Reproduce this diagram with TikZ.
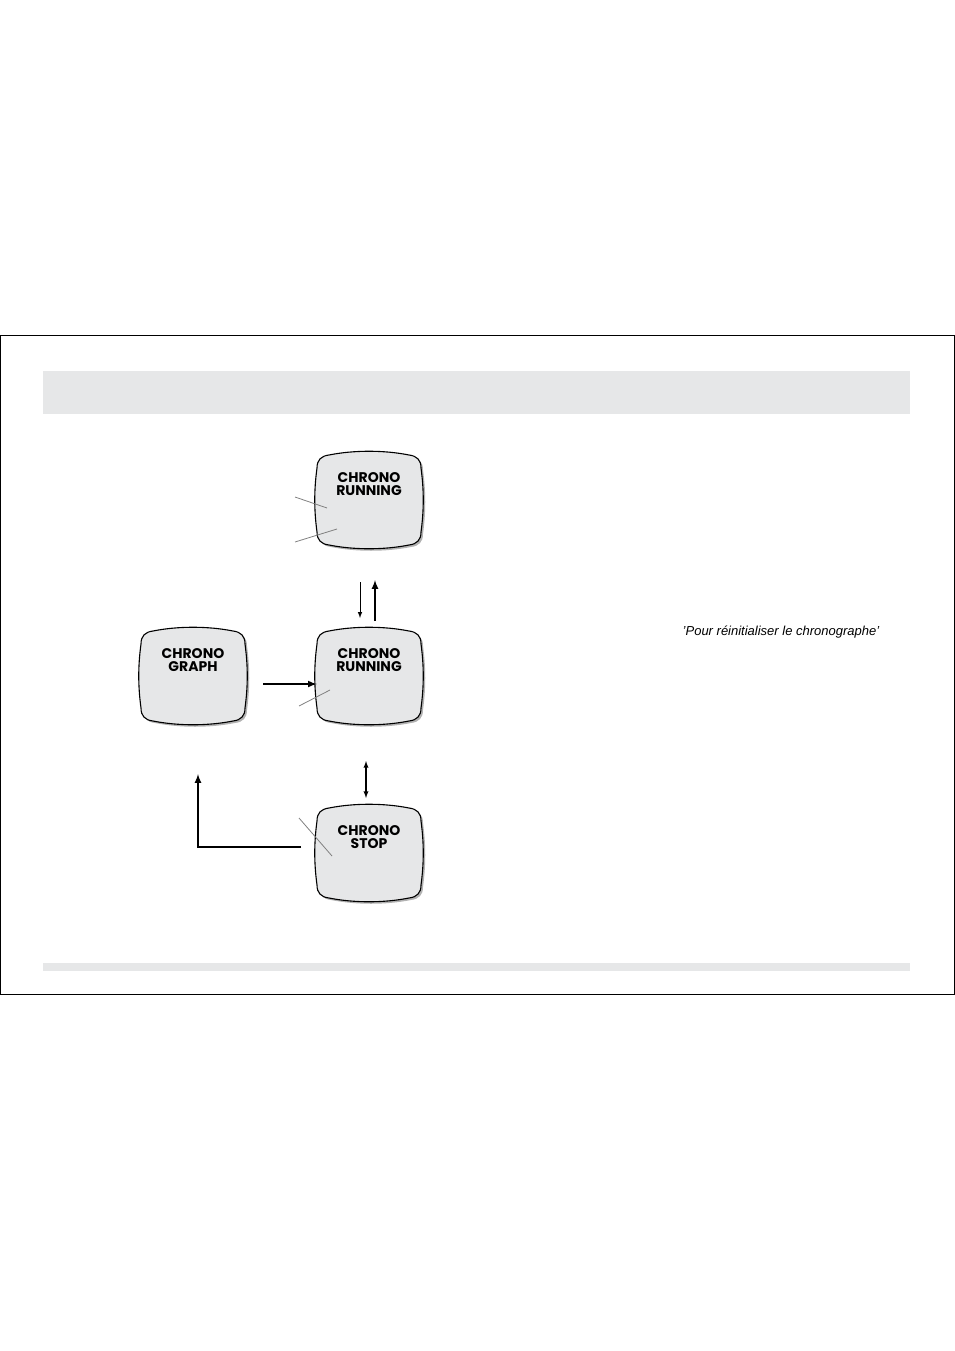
\documentclass[tikz,border=0pt]{standalone}
\usepackage{fontspec}
\setmainfont{Liberation Sans}
\newfontfamily\facefont{Poppins}
\definecolor{facegray}{HTML}{E6E7E8}
\tikzset{
	face/.style={minimum width=104pt,minimum height=96pt,inner sep=0pt},
	facetext/.style={font=\facefont\bfseries\fontsize{14}{16}\selectfont,align=center},
	pointer/.style={gray,line width=0.8pt},
	flow/.style={-latex,line width=1.2pt},
}
\newcommand\watchshape[1]{%
	\begin{scope}[shift={(#1)}]
	\fill[gray!60,shift={(2,2)}] (-40,-45) .. controls (-15,-50) and (15,-50) .. (40,-45) .. controls (48,-44) and (52,-40) .. (52,-32) .. controls (55,-10) and (55,10) .. (52,32) .. controls (52,40) and (48,44) .. (40,45) .. controls (15,50) and (-15,50) .. (-40,45) .. controls (-48,44) and (-52,40) .. (-52,32) .. controls (-55,10) and (-55,-10) .. (-52,-32) .. controls (-52,-40) and (-48,-44) .. (-40,-45) -- cycle;
	\filldraw[fill=facegray,line width=1.1pt] (-40,-45) .. controls (-15,-50) and (15,-50) .. (40,-45) .. controls (48,-44) and (52,-40) .. (52,-32) .. controls (55,-10) and (55,10) .. (52,32) .. controls (52,40) and (48,44) .. (40,45) .. controls (15,50) and (-15,50) .. (-40,45) .. controls (-48,44) and (-52,40) .. (-52,32) .. controls (-55,10) and (-55,-10) .. (-52,-32) .. controls (-52,-40) and (-48,-44) .. (-40,-45) -- cycle;
	\end{scope}}
\begin{document}
\begin{tikzpicture}[x=1pt,y=-1pt]
	\useasboundingbox (0,0) rectangle (954,1351);
	% frame and bands
	\draw[line width=0.8pt] (0,335) rectangle (954,994);
	\fill[facegray] (43,371) rectangle (910,414);
	\fill[facegray] (43,963) rectangle (910,971);
	% watch faces
	\watchshape{369,500}
	\watchshape{193,676}
	\watchshape{369,676}
	\watchshape{369,853}
	\node[face] (run1) at (369,500) {};
	\node[face] (graph) at (193,676) {};
	\node[face] (run2) at (369,676) {};
	\node[face] (stop) at (369,853) {};
	\node[facetext] at (369,484) {CHRONO\\[-3pt]RUNNING};
	\node[facetext] at (193,660) {CHRONO\\[-3pt]GRAPH};
	\node[facetext] at (369,660) {CHRONO\\[-3pt]RUNNING};
	\node[facetext] at (369,837) {CHRONO\\[-3pt]STOP};
	% pointers
	\draw[pointer] (295,497) -- (327,508);
	\draw[pointer] (295,542) -- (337,529);
	\draw[pointer] (299,706) -- (330,690);
	\draw[pointer] (299,818) -- (332,856);
	% arrows
	\coordinate (d1) at (360,582);
	\coordinate (d2) at (360,618);
	\coordinate (u1) at (375,621);
	\coordinate (u2) at (375,580);
	\draw[-latex,line width=1pt] (d1) -- (d2);
	\draw[flow,line width=2pt] (u1) -- (u2);
	\coordinate (g1) at (263,684);
	\draw[flow,line width=2pt] (g1) -- (run2.west |- g1);
	\coordinate (s1) at (366,761);
	\coordinate (s2) at (366,798);
	\draw[latex-latex,line width=1.3pt] (s1) -- (s2);
	\coordinate (l1) at (301,847);
	\coordinate (l2) at (198,847);
	\coordinate (l3) at (198,774);
	\draw[flow,line width=2pt] (l1) -- (l2) -- (l3);
	\node[font=\itshape\fontsize{13}{15}\selectfont] (note) at (781,632) {'Pour réinitialiser le chronographe'};
\end{tikzpicture}
\end{document}
